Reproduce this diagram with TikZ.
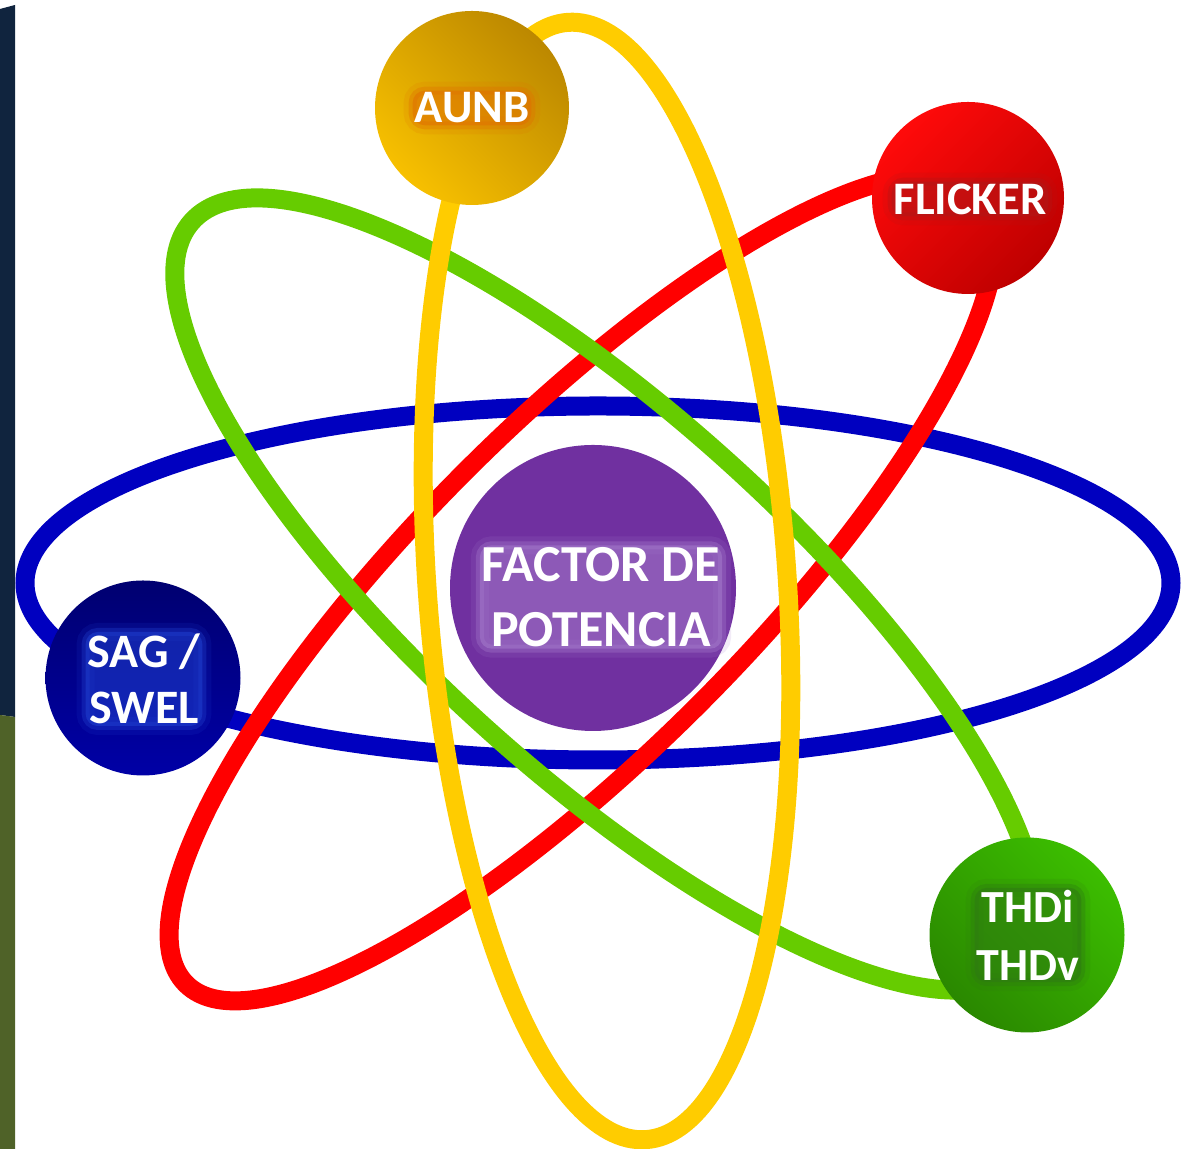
\documentclass[tikz,border=0pt]{standalone}
\usepackage{fontspec}
\setmainfont{Carlito}
\definecolor{OrbitBlue}{HTML}{0000C0}
\definecolor{OrbitRed}{HTML}{FF0000}
\definecolor{OrbitGreen}{HTML}{66CC00}
\definecolor{OrbitYellow}{HTML}{FFCC00}
\definecolor{CorePurple}{HTML}{7030A0}
\definecolor{CoreGlow}{HTML}{A57BCB}
\definecolor{AunbDark}{HTML}{BC8800}
\definecolor{AunbLight}{HTML}{F7C000}
\definecolor{AunbGlow}{HTML}{E07000}
\definecolor{FlickerLight}{HTML}{FF0A0A}
\definecolor{FlickerDark}{HTML}{BE0000}
\definecolor{FlickerGlow}{HTML}{B01818}
\definecolor{SagDark}{HTML}{000070}
\definecolor{SagLight}{HTML}{0000A6}
\definecolor{SagGlow}{HTML}{2040D0}
\definecolor{ThdLight}{HTML}{3CBE00}
\definecolor{ThdDark}{HTML}{2A8800}
\definecolor{ThdGlow}{HTML}{2E7A12}
\definecolor{StripNavy}{HTML}{10243E}
\definecolor{StripOlive}{HTML}{4F6228}
\begin{document}
\begin{tikzpicture}[
  x=0.5pt,y=0.5pt,
  orbit/.style={line width=9.5pt},
  ball/.style={circle,minimum size=#1,inner sep=0pt},
  lbl/.style={text=white,align=center,inner sep=1pt,rounded corners=6pt,text opacity=1},
  glow/.style={fill=#1,fill opacity=0.55,
    preaction={draw=#1,line width=4pt,draw opacity=0.35},
    preaction={draw=#1,line width=9pt,draw opacity=0.15}}
]
\useasboundingbox (0,0) rectangle (1185,1149);
% side strip
\fill[StripNavy] (0,434) -- (0,1140) -- (15,1144) -- (15,432) -- cycle;
\fill[StripOlive] (0,0) -- (0,434) -- (15,432) -- (15,0) -- cycle;

% orbits
\draw[orbit,OrbitBlue] (598,566) ellipse [x radius=573,y radius=177];
\draw[orbit,OrbitRed,rotate around={45:(582,561)}] (582,561) ellipse [x radius=560,y radius=165];
\draw[orbit,OrbitGreen,rotate around={-42:(606,555)}] (606,555) ellipse [x radius=557,y radius=180];
\draw[orbit,OrbitYellow,rotate around={4:(607,568)}] (607,568) ellipse [x radius=180,y radius=560];

% balls
\node[ball=143pt,fill=CorePurple] (core) at (593,561) {};
\node[ball=97pt,top color=AunbDark,bottom color=AunbLight,shading angle=-45] (aunb) at (472,1041) {};
\node[ball=96pt,top color=FlickerLight,bottom color=FlickerDark,shading angle=45] (flicker) at (968,951) {};
\node[ball=97.5pt,top color=SagDark,bottom color=SagLight] (sag) at (143,471) {};
\node[ball=97.5pt,top color=ThdLight,bottom color=ThdDark,shading angle=-45] (thd) at (1027,214) {};

% labels
\node[lbl,glow=CoreGlow,font=\bfseries\fontsize{26}{32.5}\selectfont] (coretext) at (601,552) {FACTOR DE\\POTENCIA};
\node[lbl,glow=AunbGlow,font=\bfseries\fontsize{23.3}{28}\selectfont] (aunbtext) at (aunb) {AUNB};
\node[lbl,glow=FlickerGlow,font=\bfseries\fontsize{23.3}{28}\selectfont] (flickertext) at (970,950) {FLICKER};
\node[lbl,glow=SagGlow,font=\bfseries\fontsize{24}{28}\selectfont] (sagtext) at (144,470) {SAG /\\SWEL};
\node[lbl,glow=ThdGlow,font=\bfseries\fontsize{23}{29}\selectfont] (thdtext) at (1028,214) {THDi\\THDv};
\end{tikzpicture}
\end{document}
